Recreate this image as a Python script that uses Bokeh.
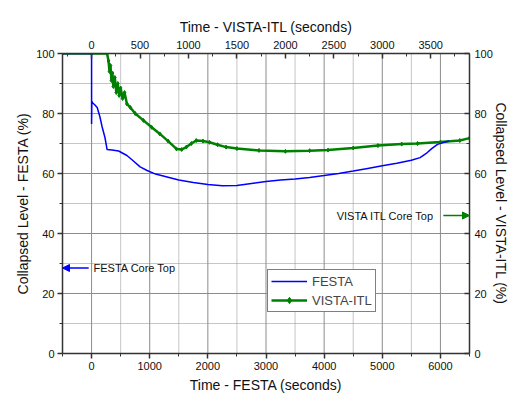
from bokeh.plotting import figure
from bokeh.models import (Range1d, LinearAxis, FixedTicker, Arrow, NormalHead,
                          Label, Legend, LegendItem, Span)
from bokeh.embed import file_html
from bokeh.resources import INLINE

# ---- data ----
festa_t = [-500, 0, 0, 5, 20, 50, 97, 142, 182, 230, 267, 350, 465, 608, 700,
           835, 955, 1100, 1300, 1500, 1750, 2000, 2250, 2500, 2750, 3000, 3250,
           3500, 3750, 4000, 4250, 4500, 4750, 5000, 5250, 5500, 5650, 5750,
           5850, 5950, 6050, 6150]
festa_lvl = [100, 100, 76.5, 84, 83.5, 83, 82, 79, 75.5, 72, 68, 67.8, 67.5, 66,
             64.5, 62.2, 61, 59.8, 58.8, 57.8, 57, 56.3, 55.9, 56, 56.7, 57.3,
             57.8, 58.2, 58.7, 59.3, 60, 60.8, 61.7, 62.6, 63.4, 64.4, 65.3,
             66.6, 68.3, 69.7, 70.3, 70.8]

vista_t = [-300, 0, 160, 175, 185, 195, 205, 215, 225, 240, 255, 270, 285, 300,
           320, 340, 365, 400, 450, 535, 620, 705, 790, 876, 930, 978, 1030,
           1080, 1150, 1217, 1300, 1388, 1500, 1728, 2000, 2250, 2440, 2700,
           2955, 3200, 3364, 3600, 3800, 3900]
vista_lvl = [100, 100, 100, 97.5, 94, 96, 91, 93.5, 89, 92, 87, 90, 86, 88.5,
             85, 87, 83.2, 82, 80, 77.7, 75.4, 73.2, 70.8, 68.2, 68, 68.8, 70,
             71, 70.8, 70.4, 69.6, 68.8, 68.3, 67.7, 67.4, 67.6, 67.8, 68.5,
             69.3, 69.8, 70, 70.5, 71, 71.8]

festa_ticks = [0, 1000, 2000, 3000, 4000, 5000, 6000]
festa_minor = [-500, 500, 1500, 2500, 3500, 4500, 5500, 6500]
vista_ticks = [0, 500, 1000, 1500, 2000, 2500, 3000, 3500]
vista_minor = [-250, 250, 750, 1250, 1750, 2250, 2750, 3250, 3750]
y_ticks = [0, 20, 40, 60, 80, 100]
y_minor = [10, 30, 50, 70, 90]

festa_core_top = 28.5
vista_core_top = 46.0

BLUE = "#0000ff"
GREEN = "#008000"
FONT = "Liberation Sans"
GRID = "#8c8c8c"

p = figure(width=511, height=399, output_backend="svg", toolbar_location=None,
           x_range=Range1d(-500, 6500), y_range=Range1d(0, 100),
           min_border_left=62, min_border_right=38, min_border_top=53,
           min_border_bottom=46)
p.extra_x_ranges = {"vista": Range1d(-300, 3900)}
p.extra_y_ranges = {"right": Range1d(0, 100)}
p.outline_line_color = None
p.background_fill_color = None
p.border_fill_color = None
p.xgrid.visible = False
p.ygrid.visible = False

# grid lines drawn as spans at the tick positions, beneath the data
for t in festa_ticks:
    p.add_layout(Span(location=t, dimension="height", line_color=GRID,
                      line_width=1, level="underlay"))
for t in festa_minor:
    p.add_layout(Span(location=t, dimension="height", line_color=GRID,
                      line_width=1, line_dash="1 1", level="underlay"))
for t in y_ticks:
    p.add_layout(Span(location=t, dimension="width", line_color=GRID,
                      line_width=1, level="underlay"))
for t in y_minor:
    p.add_layout(Span(location=t, dimension="width", line_color=GRID,
                      line_width=1, line_dash="1 1", level="underlay"))

bottom = p.xaxis[0]
left = p.yaxis[0]
top = LinearAxis(x_range_name="vista")
right = LinearAxis(y_range_name="right")
p.add_layout(top, "above")
p.add_layout(right, "right")

bottom.ticker = FixedTicker(ticks=festa_ticks, minor_ticks=festa_minor)
top.ticker = FixedTicker(ticks=vista_ticks, minor_ticks=vista_minor)
left.ticker = FixedTicker(ticks=y_ticks, minor_ticks=y_minor)
right.ticker = FixedTicker(ticks=y_ticks, minor_ticks=y_minor)

bottom.axis_label = "Time - FESTA (seconds)"
top.axis_label = "Time - VISTA-ITL (seconds)"
left.axis_label = "Collapsed Level - FESTA (%)"
right.axis_label = "Collapsed Level - VISTA-ITL (%)"

for ax in (bottom, top, left, right):
    ax.axis_label_text_font = FONT
    ax.axis_label_text_font_size = "14px"
    ax.axis_label_text_font_style = "normal"
    ax.axis_label_text_color = "#111111"
    ax.major_label_text_font = FONT
    ax.major_label_text_font_size = "11px"
    ax.major_label_text_color = "#111111"
    ax.axis_line_color = "#333333"
    ax.axis_line_width = 1.5
    ax.major_tick_line_color = "#333333"
    ax.minor_tick_line_color = "#333333"
    ax.major_tick_line_width = 1.5
    ax.minor_tick_line_width = 1

for ax in (bottom, left):
    ax.major_tick_out = 5
    ax.major_tick_in = 0
    ax.minor_tick_out = 3
    ax.minor_tick_in = 0
    ax.major_label_standoff = 3
for ax in (top, right):
    ax.major_tick_out = 0
    ax.major_tick_in = 5
    ax.minor_tick_out = 0
    ax.minor_tick_in = 3
    ax.major_label_standoff = 5

bottom.axis_label_standoff = 4
top.axis_label_standoff = 3
left.axis_label_standoff = 2
right.axis_label_standoff = -3

g_line = p.line(vista_t, vista_lvl, x_range_name="vista", line_color=GREEN,
                line_width=2.5)
g_pts = p.scatter(vista_t, vista_lvl, x_range_name="vista", marker="diamond",
                  size=4, fill_color=GREEN, line_color=GREEN)
b_line = p.line(festa_t, festa_lvl, line_color=BLUE, line_width=1.5)

legend = Legend(items=[LegendItem(label="FESTA", renderers=[b_line]),
                       LegendItem(label="VISTA-ITL", renderers=[g_line, g_pts])],
                location=(205, 41))
legend.border_line_color = "black"
legend.border_line_width = 1
legend.background_fill_color = "white"
legend.background_fill_alpha = 1
legend.label_text_font = FONT
legend.label_text_font_size = "13px"
legend.glyph_width = 36
legend.glyph_height = 16
legend.label_height = 16
legend.label_standoff = 5
legend.padding = 3
legend.spacing = 3
legend.margin = 0
p.add_layout(legend)

p.add_layout(Arrow(end=NormalHead(size=7, fill_color=BLUE, line_color=BLUE),
                   x_start=-50, y_start=festa_core_top, x_end=-500,
                   y_end=festa_core_top, line_color=BLUE, line_width=1.5))
p.add_layout(Label(x=34, y=festa_core_top, text="FESTA Core Top",
                   text_font=FONT, text_font_size="11px", text_baseline="middle",
                   text_color="#111111"))

p.add_layout(Arrow(end=NormalHead(size=7, fill_color=GREEN, line_color=GREEN),
                   x_start=6050, y_start=vista_core_top, x_end=6500,
                   y_end=vista_core_top, line_color=GREEN, line_width=1.5))
p.add_layout(Label(x=5894, y=vista_core_top, text="VISTA ITL Core Top",
                   text_font=FONT, text_font_size="11px", text_baseline="middle",
                   text_align="right", text_color="#111111"))

open("out.html", "w").write(file_html(p, INLINE))
